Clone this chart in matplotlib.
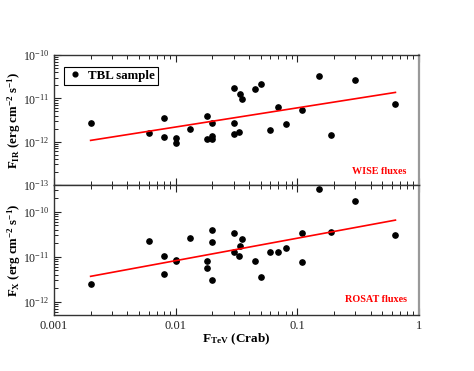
import numpy as np
import matplotlib
matplotlib.use('Agg')
import matplotlib.pyplot as plt
from matplotlib.ticker import LogLocator, LogFormatterMathtext, NullFormatter

plt.rcParams['font.family'] = ['Liberation Serif', 'DejaVu Serif']
plt.rcParams['mathtext.fontset'] = 'custom'
plt.rcParams['mathtext.rm'] = 'Liberation Serif'
plt.rcParams['mathtext.it'] = 'Liberation Serif:italic'
plt.rcParams['mathtext.bf'] = 'Liberation Serif:bold'

# TeV flux (Crab units) and IR (WISE) fluxes
tev_ir = [0.002, 0.006, 0.008, 0.008, 0.01, 0.01, 0.013, 0.018, 0.018, 0.02,
          0.02, 0.02, 0.03, 0.03, 0.03, 0.033, 0.034, 0.035, 0.045, 0.05,
          0.06, 0.07, 0.08, 0.11, 0.15, 0.19, 0.30, 0.64]
f_ir = [2.7e-12, 1.6e-12, 3.6e-12, 1.28e-12, 1.19e-12, 9.2e-13, 1.96e-12, 4.0e-12,
        1.17e-12, 2.65e-12, 1.35e-12, 1.15e-12, 1.76e-11, 2.7e-12, 1.48e-12,
        1.64e-12, 1.24e-11, 9.5e-12, 1.61e-11, 2.1e-11, 1.86e-12, 6.4e-12,
        2.5e-12, 5.5e-12, 3.3e-11, 1.43e-12, 2.65e-11, 7.5e-12]

# TeV flux and X-ray (ROSAT) fluxes
tev_x = [0.002, 0.006, 0.008, 0.008, 0.01, 0.01, 0.013, 0.018, 0.018, 0.02,
         0.02, 0.02, 0.03, 0.03, 0.033, 0.034, 0.035, 0.045, 0.05, 0.06,
         0.07, 0.08, 0.11, 0.11, 0.15, 0.19, 0.30, 0.64]
f_x = [2.43e-12, 2.23e-11, 1.02e-11, 4.2e-12, 7.9e-12, 8.4e-12, 2.6e-11, 8.1e-12,
       5.5e-12, 3.9e-11, 2.1e-11, 3.1e-12, 3.3e-11, 1.29e-11, 1.02e-11,
       1.76e-11, 2.47e-11, 8.0e-12, 3.5e-12, 1.27e-11, 1.29e-11, 1.6e-11,
       3.4e-11, 7.6e-12, 3.15e-10, 3.5e-11, 1.75e-10, 3.1e-11]

# fitted lines (end points)
fit_tev = [0.002, 0.64]
fit_ir = [1.07e-12, 1.37e-11]
fit_x = [3.66e-12, 6.5e-11]

fig = plt.figure(figsize=(4.74, 3.71), dpi=100)
ax1 = fig.add_axes([54/474, 1-185/371, 365/474, 130/371])
ax2 = fig.add_axes([54/474, 1-315/371, 365/474, 130/371])

def style(ax):
    ax.set_xscale('log')
    ax.set_yscale('log')
    ax.set_xlim(0.001, 1)
    ax.xaxis.set_major_locator(LogLocator(base=10, numticks=10))
    ax.xaxis.set_minor_locator(LogLocator(base=10, subs=np.arange(2, 10), numticks=10))
    ax.yaxis.set_major_locator(LogLocator(base=10, numticks=10))
    ax.yaxis.set_minor_locator(LogLocator(base=10, subs=np.arange(2, 10), numticks=10))
    ax.yaxis.set_major_formatter(LogFormatterMathtext())
    ax.yaxis.set_minor_formatter(NullFormatter())
    ax.tick_params(which='both', direction='in', top=True, right=False,
                   colors='#222222')
    ax.tick_params(axis='y', labelsize=8.5)
    ax.tick_params(axis='x', labelsize=9)
    ax.tick_params(which='major', length=5, width=0.8)
    ax.tick_params(which='minor', length=3, width=0.7)
    for s in ['left', 'top', 'bottom']:
        ax.spines[s].set_color('#333333')
        ax.spines[s].set_linewidth(1.0)
    ax.spines['right'].set_color('#999999')
    ax.spines['right'].set_linewidth(1.6)

style(ax1)
style(ax2)

ax1.plot(tev_ir, f_ir, 'o', color='black', markersize=3.8, label='TBL sample')
ax1.plot(fit_tev, fit_ir, '-', color='red', linewidth=1.2)
ax1.set_ylim(1e-13, 1e-10)
ax1.xaxis.set_major_formatter(NullFormatter())
ax1.xaxis.set_minor_formatter(NullFormatter())
ax1.set_ylabel(r'$\mathbf{F_{IR}}$ $\mathbf{(erg\ cm^{-2}\ s^{-1})}$', fontsize=9.3)
ax1.yaxis.set_label_coords(-0.085, 0.5)
ax1.text(0.966, 0.1, 'WISE fluxes', color='red', fontsize=7.3, fontweight='bold',
         ha='right', va='center', transform=ax1.transAxes)
leg = ax1.legend(loc='upper left', bbox_to_anchor=(0.028, 0.91), fancybox=False,
                 edgecolor='black', framealpha=1, handletextpad=0.5,
                 borderpad=0.25, borderaxespad=0, prop={'weight': 'bold', 'size': 9.3},
                 handlelength=1.1, markerscale=0.9)
leg.get_frame().set_linewidth(0.8)

ax2.plot(tev_x, f_x, 'o', color='black', markersize=3.8)
ax2.plot(fit_tev, fit_x, '-', color='red', linewidth=1.2)
ax2.set_ylim(5.06e-13, 3.92e-10)
ax2.set_xticks([0.001, 0.01, 0.1, 1])
ax2.set_xticklabels(['0.001', '0.01', '0.1', '1'])
ax2.xaxis.set_minor_formatter(NullFormatter())
ax2.set_ylabel(r'$\mathbf{F_{X}}$ $\mathbf{(erg\ cm^{-2}\ s^{-1})}$', fontsize=9.3)
ax2.yaxis.set_label_coords(-0.085, 0.5)
ax2.set_xlabel(r'$\mathbf{F_{TeV}}$ $\mathbf{(Crab)}$', fontsize=9.5, labelpad=0)
ax2.text(0.966, 0.12, 'ROSAT fluxes', color='red', fontsize=7.3, fontweight='bold',
         ha='right', va='center', transform=ax2.transAxes)

fig.savefig('out.png', dpi=100)
